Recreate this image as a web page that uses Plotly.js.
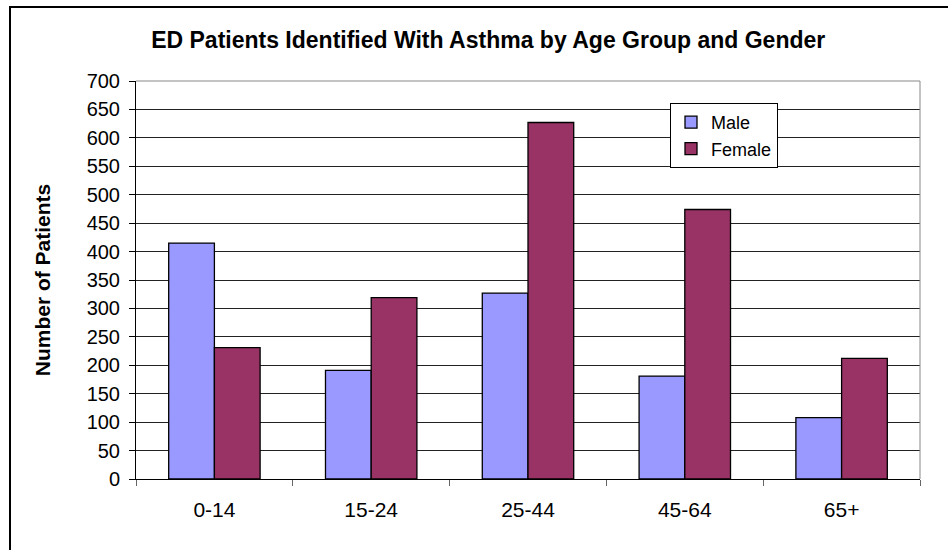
<!DOCTYPE html>
<html>
<head>
<meta charset="utf-8">
<script src="https://cdn.plot.ly/plotly-3.0.1.min.js"></script>
<style>html,body{margin:0;padding:0;background:#fff}#chart{width:948px;height:550px}</style>
</head>
<body>
<div id="chart"></div>
<script>
const categories = ["0-14", "15-24", "25-44", "45-64", "65+"];
const maleValues = [415, 191, 327, 181, 108];
const femaleValues = [231, 319, 627, 474, 212];
const yTickValues = [0,50,100,150,200,250,300,350,400,450,500,550,600,650,700];

const traces = [
  {type:"bar", name:"Male", x:categories, y:maleValues, legendgroup:"m",
   marker:{color:"#9999ff", line:{color:"#000", width:1.3}}},
  {type:"bar", name:"Female", x:categories, y:femaleValues, legendgroup:"f",
   marker:{color:"#993366", line:{color:"#000", width:1.3}}}
];

const L = 136, T = 81, PW = 784, PH = 398;
const layout = {
  width:948, height:550,
  margin:{l:L, r:28, t:T, b:71},
  paper_bgcolor:"#fff", plot_bgcolor:"#fff",
  font:{family:"Liberation Sans, Arial, sans-serif", color:"#000", size:19},
  title:{text:"<b>ED Patients Identified With Asthma by Age Group and Gender</b>",
         x:0.515, xref:"container", xanchor:"center", y:0.927, yref:"container", yanchor:"middle",
         font:{size:23, color:"#000"}},
  barmode:"group", bargap:0.417, bargroupgap:0,
  xaxis:{type:"category", showline:true, linecolor:"#000", linewidth:1,
         ticks:"outside", tickson:"boundaries", ticklen:6, tickcolor:"#666",
         showgrid:false, mirror:false, tickfont:{size:21}, ticklabelstandoff:12},
  yaxis:{range:[0,700], tickvals:yTickValues, showline:true, linecolor:"#000", linewidth:1,
         ticks:"outside", ticklen:6, tickcolor:"#000",
         showgrid:true, gridcolor:"#222", gridwidth:1, zeroline:false,
         tickfont:{size:20}, ticklabelstandoff:5,
         title:{text:"<b>Number of Patients</b>", font:{size:21}, standoff:30}},
  legend:{x:(670-L)/PW, y:(479-103)/PH, xanchor:"left", yanchor:"top", bgcolor:"#fff",
          bordercolor:"#000", borderwidth:1, font:{size:18}, tracegroupgap:6,
          traceorder:"normal", itemwidth:30},
  shapes:[
    {type:"line", xref:"paper", yref:"paper", x0:0, x1:1, y0:1, y1:1, line:{color:"#888", width:1}},
    {type:"line", xref:"paper", yref:"paper", x0:1, x1:1, y0:0, y1:1, line:{color:"#888", width:1}},
    {type:"rect", xref:"paper", yref:"paper",
     x0:(10-L)/PW, x1:(990-L)/PW, y0:(479-600)/PH, y1:(479-7)/PH,
     line:{color:"#000", width:2}, fillcolor:"rgba(0,0,0,0)", layer:"below"}
  ]
};

Plotly.newPlot("chart", traces, layout, {displayModeBar:false, staticPlot:true});
</script>
</body>
</html>
